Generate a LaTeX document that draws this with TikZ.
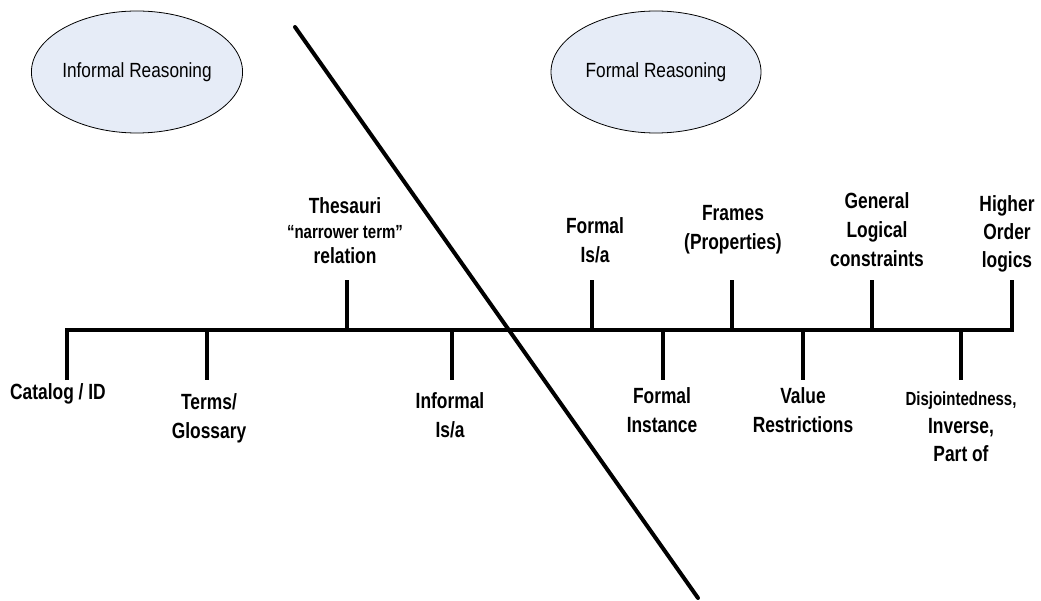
\documentclass[tikz,border=0pt]{standalone}
\usepackage{fontspec}
\usetikzlibrary{shapes.geometric}
% condensed sans faces for the labels and the two ovals
\newfontfamily\labelfont[FakeStretch=0.79]{Liberation Sans}
\newfontfamily\ovalfont[FakeStretch=0.84]{Liberation Sans}
\definecolor{ovalfill}{RGB}{230,236,247}

\begin{document}
\begin{tikzpicture}[x=1pt,y=-1pt,
  oval/.style={ellipse, draw=black, line width=0.8pt, fill=ovalfill,
    minimum width=210pt, minimum height=122pt, inner sep=0pt,
    font=\ovalfont\fontsize{20.5}{24}\selectfont},
  lbl/.style={inner sep=0pt, align=center, anchor=north,
    font=\labelfont\bfseries\fontsize{22}{29}\selectfont},
  axis/.style={line width=4.5pt, line join=miter},
  tick/.style={line width=3.5pt},
  divider/.style={line width=4pt, line cap=round}]

\useasboundingbox (0,0) rectangle (1041,601);

% the two reasoning regions
\node[oval] (informal) at (137,72) {Informal Reasoning};
\node[oval] (formal)   at (656,72) {Formal Reasoning};

% points on the axis
\coordinate (a1)  at (67,330);
\coordinate (a2)  at (207,330);
\coordinate (a3)  at (347,330);
\coordinate (a4)  at (452,330);
\coordinate (a5)  at (592,330);
\coordinate (a6)  at (663,330);
\coordinate (a7)  at (732,330);
\coordinate (a8)  at (803,330);
\coordinate (a9)  at (872,330);
\coordinate (a10) at (961,330);
\coordinate (a11) at (1012,330);

% free ends of the ticks
\coordinate (t1)  at (67,380);
\coordinate (t2)  at (207,380);
\coordinate (t3)  at (347,280);
\coordinate (t4)  at (452,380);
\coordinate (t5)  at (592,280);
\coordinate (t6)  at (663,380);
\coordinate (t7)  at (732,280);
\coordinate (t8)  at (803,380);
\coordinate (t9)  at (872,280);
\coordinate (t10) at (961,380);
\coordinate (t11) at (1012,280);

% main axis with its end ticks
\draw[axis] (t1) |- (a11) -- (t11);

% inner ticks
\foreach \i in {2,...,10}
  \draw[tick] (a\i) -- (t\i);

% labels above the axis
\node[lbl, font=\labelfont\bfseries\fontsize{22}{25}\selectfont] (thes) at (345,197)
  {Thesauri\\{\fontsize{19}{25}\selectfont “narrower term”}\\relation};
\node[lbl] (fisa)    at (595,217) {Formal\\Is/a};
\node[lbl] (frames)  at (733,205) {Frames\\(Properties)};
\node[lbl] (general) at (877,192) {General\\Logical\\constraints};
\node[lbl, font=\labelfont\bfseries\fontsize{22}{28}\selectfont] (higher) at (1007,195)
  {Higher\\Order\\logics};

% labels below the axis
\node[lbl] (cat)     at (58,383)  {Catalog / ID};
\node[lbl] (terms)   at (209,393) {Terms/\\Glossary};
\node[lbl] (infisa)  at (450,392) {Informal\\Is/a};
\node[lbl] (finst)   at (662,387) {Formal\\Instance};
\node[lbl] (value)   at (803,387) {Value\\Restrictions};
\node[lbl, font=\labelfont\bfseries\fontsize{22}{28}\selectfont] (disj) at (961,392)
  {{\fontsize{19}{28}\selectfont Disjointedness,}\\Inverse,\\Part of};

% divider between informal and formal reasoning
\coordinate (dTop) at (295,27);
\coordinate (dBot) at (698,598);
\draw[divider] (dTop) -- (dBot);

\end{tikzpicture}
\end{document}
